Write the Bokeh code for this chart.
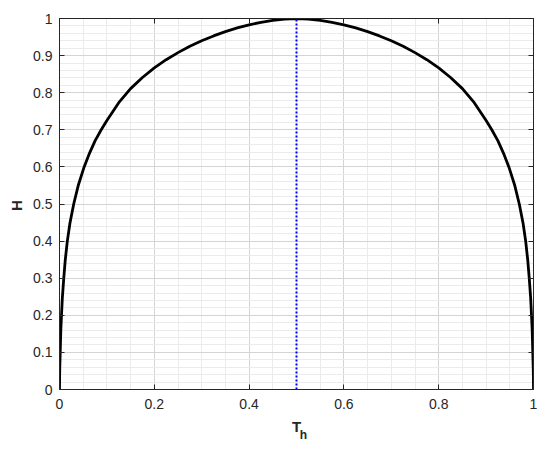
from bokeh.plotting import figure
from bokeh.models import Range1d, LinearAxis, FixedTicker, Label, Grid
from bokeh.embed import file_html
from bokeh.resources import INLINE

# values
th = [0.0, 0.0002, 0.0005, 0.0015, 0.0028, 0.0042, 0.006, 0.009, 0.012, 0.0165, 0.022,
      0.03, 0.04, 0.052, 0.062, 0.075, 0.088, 0.1, 0.125, 0.15, 0.175, 0.2, 0.225, 0.25,
      0.275, 0.3, 0.325, 0.35, 0.375, 0.4, 0.425, 0.45, 0.475, 0.5,
      0.525, 0.55, 0.575, 0.6, 0.625, 0.65, 0.675, 0.7, 0.725, 0.75, 0.775, 0.8, 0.825,
      0.85, 0.875, 0.9, 0.912, 0.925, 0.938, 0.948, 0.96, 0.97, 0.978, 0.9835, 0.988,
      0.991, 0.994, 0.9958, 0.9972, 0.9985, 0.9995, 0.9998, 1.0]
h = [0.0, 0.03, 0.055, 0.1, 0.161, 0.2, 0.247, 0.3, 0.347, 0.4, 0.448,
     0.5, 0.552, 0.6, 0.633, 0.67, 0.7, 0.725, 0.773, 0.811, 0.841, 0.867, 0.889, 0.908,
     0.925, 0.94, 0.953, 0.9645, 0.9745, 0.983, 0.9898, 0.9949, 0.9983, 1.0,
     0.9983, 0.9949, 0.9898, 0.983, 0.9745, 0.9645, 0.953, 0.94, 0.925, 0.908, 0.889,
     0.867, 0.841, 0.811, 0.773, 0.725, 0.7, 0.67, 0.633, 0.6, 0.552, 0.5, 0.448, 0.4,
     0.347, 0.3, 0.247, 0.2, 0.161, 0.1, 0.055, 0.03, 0.0]
mid_x = [0.5, 0.5]
mid_y = [0.0, 1.0]
x_ticks = [0, 0.2, 0.4, 0.6, 0.8, 1]
y_ticks = [0, 0.1, 0.2, 0.3, 0.4, 0.5, 0.6, 0.7, 0.8, 0.9, 1]
x_minor = [i / 20 for i in range(21)]
y_minor = [i / 50 for i in range(51)]

p = figure(width=550, height=452, output_backend="svg", toolbar_location=None,
           x_range=Range1d(0, 1), y_range=Range1d(0, 1),
           min_border_left=59, min_border_right=17, min_border_top=18, min_border_bottom=63,
           x_axis_location=None, y_axis_location=None)
p.outline_line_color = "#262626"
p.outline_line_width = 1
p.background_fill_color = "white"
p.border_fill_color = "white"

for dim, ticks, minor in [(0, x_ticks, x_minor), (1, y_ticks, y_minor)]:
    g = Grid(dimension=dim, ticker=FixedTicker(ticks=ticks, minor_ticks=minor),
             grid_line_color="#d4d4d4", grid_line_width=1,
             minor_grid_line_color="#ebebeb", minor_grid_line_width=1)
    p.add_layout(g, "center")

def mk_axis(ticks, show_labels):
    ax = LinearAxis(ticker=FixedTicker(ticks=ticks))
    ax.axis_line_color = "#262626"
    ax.major_tick_in = 5
    ax.major_tick_out = 0
    ax.major_tick_line_color = "#262626"
    ax.minor_tick_line_color = None
    ax.major_label_text_font = "Liberation Sans"
    ax.major_label_text_font_size = "14px"
    ax.major_label_text_color = "#262626"
    if not show_labels:
        ax.major_label_text_font_size = "0px"
        ax.major_label_text_alpha = 0
    return ax

xb = mk_axis(x_ticks, True)
xb.major_label_standoff = 9
xb.major_label_overrides = {0: "0", 1: "1"}
p.add_layout(xb, "below")
yl = mk_axis(y_ticks, True)
yl.major_label_standoff = 7
yl.major_label_overrides = {0: "0", 1: "1"}
p.add_layout(yl, "left")
p.add_layout(mk_axis(x_ticks, False), "above")
p.add_layout(mk_axis(y_ticks, False), "right")

p.line(th, h, line_color="black", line_width=2.8)
p.line(mid_x, mid_y, line_color="#0000ff", line_width=2, line_dash="2 2")

# axis titles, placed in the side panels using the plot's scales
p.add_layout(Label(x=-0.0907, y=0.496, text="H", angle=90, angle_units="deg",
                   text_font="Liberation Sans", text_font_style="bold",
                   text_font_size="15px", text_color="#262626",
                   text_align="center", text_baseline="middle"), "left")
p.add_layout(Label(x=0.5, y=-0.0997, text="T", text_font="Liberation Sans",
                   text_font_style="bold", text_font_size="15px", text_color="#262626",
                   text_align="center", text_baseline="middle"), "below")
p.add_layout(Label(x=0.5148, y=-0.1213, text="h", text_font="Liberation Sans",
                   text_font_style="bold", text_font_size="12px", text_color="#262626",
                   text_align="center", text_baseline="middle"), "below")

open("out.html", "w").write(file_html(p, INLINE))
